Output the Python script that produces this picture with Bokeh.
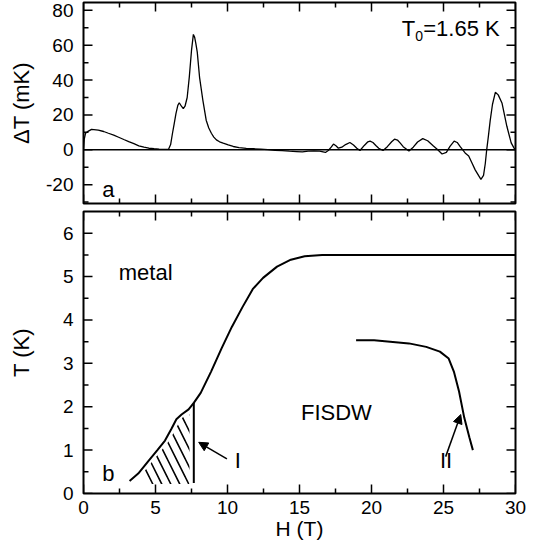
import math
from bokeh.plotting import figure
from bokeh.models import LinearAxis, FixedTicker, Range1d, Span, Label, Arrow, NormalHead
from bokeh.layouts import column
from bokeh.embed import file_html
from bokeh.resources import INLINE

FONT = "Liberation Sans"

# ---------------- data: panel a ----------------
H_top = [0.0, 0.05, 0.14, 0.28, 0.56, 1.03, 1.4, 1.73, 2.1, 2.44, 2.8, 3.14, 3.5, 3.84, 4.2, 4.54, 4.9, 5.25, 5.6, 5.9,
         6.05, 6.18, 6.3, 6.42, 6.55, 6.65, 6.8, 6.93, 7.05, 7.2, 7.35, 7.5, 7.63, 7.72, 7.8, 7.9, 8.06, 8.29, 8.52, 8.7,
         8.88, 9.05, 9.23, 9.45, 9.7, 9.9, 10.05, 10.4, 10.8, 11.3, 11.8, 12.3,
         12.8, 13.3, 13.8, 14.3, 14.8, 15.2, 15.6, 16.0, 16.4, 16.8, 17.0,
         17.2, 17.36, 17.55, 17.7, 17.94, 18.2, 18.5, 18.75, 18.98, 19.2, 19.5, 19.75, 19.9, 20.1, 20.3, 20.5, 20.8,
         21.1, 21.4, 21.6, 21.8, 22.0, 22.2, 22.6, 22.9, 23.2, 23.56, 23.9, 24.3, 24.6, 24.9, 25.2, 25.45, 25.74, 25.95,
         26.16, 26.35, 26.5, 26.75, 26.97, 27.2, 27.43, 27.6, 27.78, 27.9, 28.0, 28.12, 28.24, 28.4, 28.6, 28.8, 29.06,
         29.4, 29.7, 29.9, 30.0]
dT_top = [0, 6, 9.5, 10.4, 11.7, 11.3, 10.5, 9.5, 8.4, 7.2, 5.9, 4.7, 3.5, 2.3, 1.5, 0.9, 0.6, 0.4, 0.3, 0.2,
          3, 9.5, 15, 20.8, 25.5, 27, 25, 23.6, 25, 30, 42, 57, 66.2, 64.5, 61, 56, 41.6, 28.4, 17, 12.5,
          9.5, 7.3, 5.7, 4.6, 3.8, 3.3, 2.8, 1.9, 1.3, 0.8, 0.6, 0.4,
          0.1, -0.3, -0.5, -0.8, -1.0, -1.2, -0.8, -0.6, -0.8, -1.5, -0.4,
          1.5, 3.3, 2.2, 0.9, 1.5, 3.0, 4.2, 2.8, 0.9, -0.4, 2.5, 4.6, 5.0, 4.2, 2.5, 0.9, -0.4,
          1.8, 4.6, 6.1, 5.6, 3.8, 1.8, -0.7, 1.5, 4.5, 6.4, 5.2, 2.2, 0.0, -2.4, -1.5, 2.0, 5.0, 4.2,
          1.8, -0.2, -1.8, -3.5, -7.4, -11.5, -14.7, -17, -14.7, -8, 0, 8, 16.6, 26, 33, 31.5, 26.9,
          13.5, 4, 1, 0]

# ---------------- data: panel b ----------------
H_boundary = [3.2, 3.8, 4.53, 5.13, 5.66, 6.09, 6.45, 6.81, 7.3, 7.66, 8.14, 8.86, 9.58, 10.3, 11.03, 11.75,
              12.47, 13.44, 14.4, 15.36, 16.57, 17.77, 30.0]
T_boundary = [0.29, 0.46, 0.76, 1.0, 1.22, 1.48, 1.71, 1.82, 1.94, 2.09, 2.32, 2.81, 3.34, 3.84, 4.29, 4.71,
              4.97, 5.23, 5.39, 5.47, 5.5, 5.5, 5.5]
H_II = [18.93, 20.18, 22.6, 23.8, 24.75, 25.36, 25.72, 26.08, 26.44, 26.8, 27.04]
T_II = [3.53, 3.53, 3.46, 3.38, 3.27, 3.11, 2.81, 2.35, 1.75, 1.29, 1.0]
H_line_I = [7.66, 7.66]
T_line_I = [0.24, 2.09]
hatch_gap = 0.3
hatch_T_bottom = 0.22

# ticks and ranges
x_range_ab = (0, 30)
ya_range = (-30.8, 84.5)
yb_range = (0, 6.5)
x_major = [0, 5, 10, 15, 20, 25, 30]
x_minor = [2.5, 7.5, 12.5, 17.5, 22.5, 27.5]
ya_major = [-20, 0, 20, 40, 60, 80]
ya_minor = [-30, -10, 10, 30, 50, 70]
yb_major = [0, 1, 2, 3, 4, 5, 6]
yb_minor = [0.5, 1.5, 2.5, 3.5, 4.5, 5.5]


def make_axis(ticks, label, label_standoff, tick_standoff, label_size="22px"):
    ax = LinearAxis(ticker=FixedTicker(ticks=ticks))
    ax.major_label_overrides = {t: str(t) for t in ticks}
    ax.major_tick_line_color = None
    ax.minor_tick_line_color = None
    ax.major_tick_in = 0
    ax.major_tick_out = 0
    ax.minor_tick_in = 0
    ax.minor_tick_out = 0
    ax.axis_line_color = None
    ax.major_label_text_font = FONT
    ax.major_label_text_font_size = "19px"
    ax.major_label_text_color = "black"
    ax.major_label_standoff = tick_standoff
    ax.axis_label = label
    ax.axis_label_text_font = FONT
    ax.axis_label_text_font_size = label_size
    ax.axis_label_text_font_style = "normal"
    ax.axis_label_text_color = "black"
    ax.axis_label_standoff = label_standoff
    return ax


def base_fig(height, yr, top, bottom):
    p = figure(width=527, height=height, x_range=Range1d(*x_range_ab), y_range=Range1d(*yr),
               output_backend="svg", toolbar_location=None,
               x_axis_location=None, y_axis_location=None,
               min_border_left=83, min_border_right=12, min_border_top=top, min_border_bottom=bottom)
    p.grid.visible = False
    p.outline_line_color = "black"
    p.outline_line_width = 2
    p.background_fill_color = "white"
    p.border_fill_color = "white"
    return p


def add_ticks(p, yr, ymaj, ymin):
    # inward ticks on all four sides (half of each dash is clipped by the frame)
    for xs, size in ((x_major, 18), (x_minor, 10)):
        p.scatter(xs + xs, [yr[0]] * len(xs) + [yr[1]] * len(xs), marker="dash", size=size,
                  angle=math.pi / 2, line_color="black", line_width=1.5)
    for ys, size in ((ymaj, 18), (ymin, 10)):
        p.scatter([x_range_ab[0]] * len(ys) + [x_range_ab[1]] * len(ys), ys + ys, marker="dash", size=size,
                  angle=0, line_color="black", line_width=1.5)


def lab(p, x, y, text, size="22px", align="left", baseline="middle", x_offset=0):
    p.add_layout(Label(x=x, y=y, text=text, text_font=FONT, text_font_size=size, text_color="black",
                       text_align=align, text_baseline=baseline, x_offset=x_offset))


# ---------------- panel a ----------------
p1 = base_fig(207, ya_range, 2, 4)
p1.add_layout(make_axis(ya_major, "\u0394T (mK)", 9, 10), "left")
add_ticks(p1, ya_range, ya_major, ya_minor)
p1.add_layout(Span(location=0, dimension="width", line_color="black", line_width=1.5))
p1.line(H_top, dT_top, line_color="black", line_width=1.3)
lab(p1, 1.3, -22.7, "a")
lab(p1, 28.9, 69.5, "=1.65 K", align="right", baseline="alphabetic")
lab(p1, 28.9, 65.5, "0", size="14px", align="right", baseline="alphabetic", x_offset=-76.5)
lab(p1, 28.9, 69.5, "T", align="right", baseline="alphabetic", x_offset=-84.5)

# ---------------- panel b ----------------
p2 = base_fig(337, yb_range, 4, 51)
p2.add_layout(make_axis(yb_major, "T (K)", 26, 10), "left")
p2.add_layout(make_axis(x_major, "H (T)", 0, 7, "21px"), "below")
add_ticks(p2, yb_range, yb_major, yb_minor)

# hatched region between the boundary curve and line I (hatch kept a little off the edges)
hx, hy = [], []
for h, t in zip(H_boundary, T_boundary):
    if H_boundary[1] <= h and h + hatch_gap <= H_line_I[0] - hatch_gap:
        hx.append(h + hatch_gap)
        hy.append(t)
hx += [H_line_I[0] - hatch_gap, H_line_I[0] - hatch_gap, hx[0] + 0.5]
hy += [hy[-1], hatch_T_bottom, hatch_T_bottom]
p2.patch(hx, hy, fill_color="white", fill_alpha=0, line_color=None,
         hatch_pattern="\\", hatch_color="black", hatch_weight=1.6, hatch_scale=18)

p2.line(H_boundary, T_boundary, line_color="black", line_width=2)
p2.line(H_line_I, T_line_I, line_color="black", line_width=2)
p2.line(H_II, T_II, line_color="black", line_width=2)

lab(p2, 2.45, 5.09, "metal")
lab(p2, 15.1, 1.86, "FISDW")
lab(p2, 1.3, 0.45, "b")
lab(p2, 10.5, 0.76, "I")
lab(p2, 24.75, 0.76, "II")

p2.add_layout(Arrow(end=NormalHead(size=9, fill_color="black", line_color="black", line_width=1),
                    x_start=9.96, y_start=0.8, x_end=8.0, y_end=1.18, line_color="black", line_width=1.5))
p2.add_layout(Arrow(end=NormalHead(size=9, fill_color="black", line_color="black", line_width=1),
                    x_start=25.15, y_start=0.85, x_end=26.2, y_end=1.82, line_color="black", line_width=1.5))

layout = column(p1, p2)
open("out.html", "w").write(file_html(layout, INLINE))
